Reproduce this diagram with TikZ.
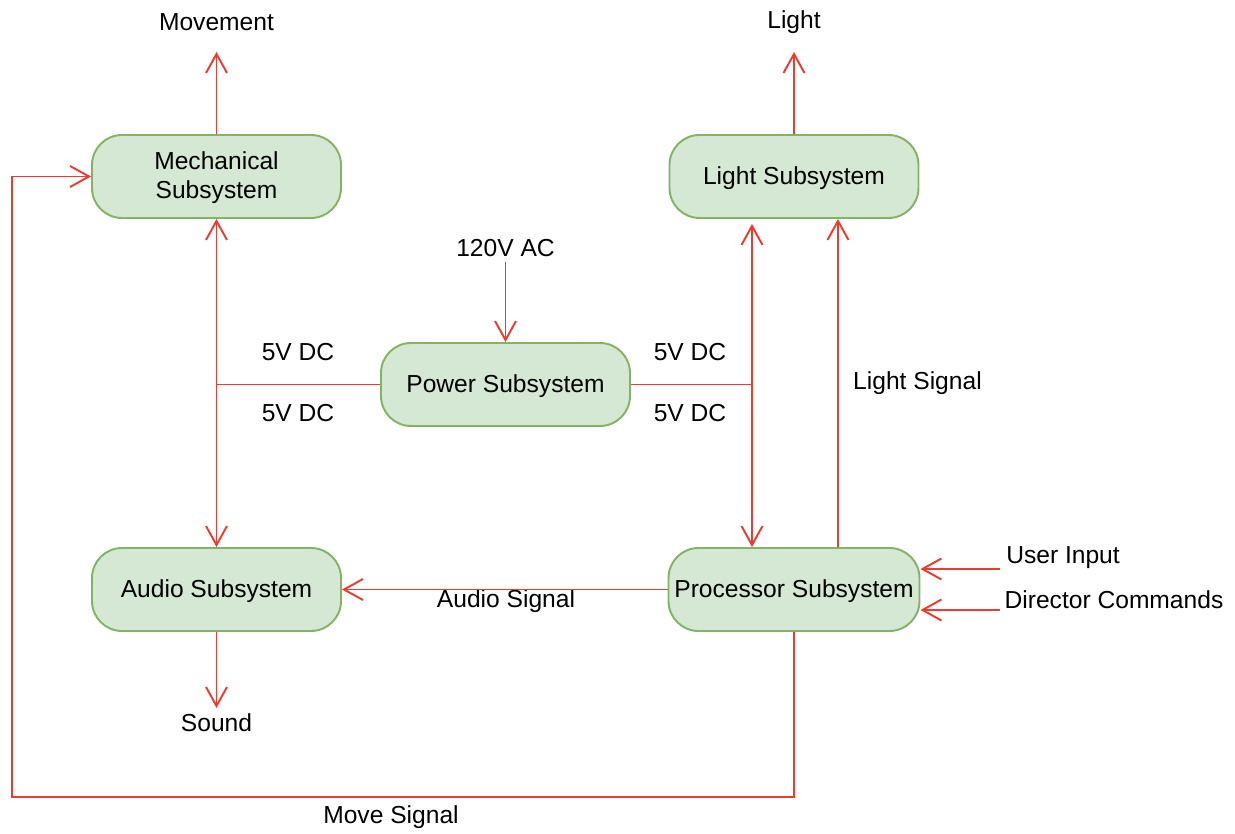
\documentclass[tikz,border=0pt]{standalone}
\usepackage{fontspec}
\setmainfont{Liberation Sans}
\usetikzlibrary{arrows.meta,calc,positioning}
\definecolor{boxfill}{HTML}{D5E8D4}
\definecolor{boxline}{HTML}{82B366}
\definecolor{wire}{HTML}{F03A2E}

\begin{document}
\begin{tikzpicture}[>={Straight Barb[length=0.38cm,width=0.42cm]},
  every node/.style={font=\fontsize{14}{16.5}\selectfont},
  box/.style={draw=boxline,fill=boxfill,line width=1.1pt,rounded corners=0.6cm,
    minimum width=4.98cm,minimum height=1.66cm,align=center,text depth=0.3ex},
  sig/.style={draw=wire,line width=1.1pt}]
\useasboundingbox (0,0) rectangle (24.7,16.68);
% blocks
\node[box] (mech) at (4.33,13.15) {Mechanical\\Subsystem};
\node[box] (light) at (15.88,13.15) {Light Subsystem};
\node[box] (power) at (10.11,8.99) {Power Subsystem};
\node[box] (audio) at (4.33,4.89) {Audio Subsystem};
\node[box] (proc) at (15.88,4.89) {Processor Subsystem};
% free ends
\coordinate (movend) at (4.33,15.64);
\coordinate (lightend) at (15.88,15.64);
\coordinate (acin) at (10.11,11.44);
\coordinate (soundend) at (4.33,2.52);
\coordinate (userin) at (20.0,5.3);
\coordinate (dirin) at (20.0,4.48);
\coordinate (loopbl) at (0.24,0.74);
\coordinate (rjoin) at (15.04,8.99);
% labels
\node (movement) at (4.33,16.24) {Movement};
\node (lightout) at (15.88,16.24) {Light};
\node (aclabel) at (10.11,11.72) {120V AC};
\node (dcla) at (5.96,9.64) {5V DC};
\node (dclb) at (5.96,8.42) {5V DC};
\node (dcra) at (13.8,9.64) {5V DC};
\node (dcrb) at (13.8,8.42) {5V DC};
\node (lsig) at (18.35,9.02) {Light Signal};
\node (asig) at (10.12,4.65) {Audio Signal};
\node (sound) at (4.33,2.22) {Sound};
\node (user) at (21.26,5.52) {User Input};
\node (director) at (22.28,4.68) {Director Commands};
\node (msig) at (7.82,0.34) {Move Signal};
% connectors
\draw[sig,->] (mech.north) -- (movend);
\draw[sig,->] (light.north) -- (lightend);
\draw[sig,->] (acin) -- (power.north);
\draw[sig,<->] (mech.south) -- (audio.north);
\draw[sig] (power.west) -- (power.west -| mech.south);
\draw[sig] (power.east) -- (rjoin);
\draw[sig,<->,shorten <=0.1cm] ($(light.south)+(-0.84,0)$) -- ($(proc.north)+(-0.84,0)$);
\draw[sig,->] ($(proc.north)+(0.88,0)$) -- ($(light.south)+(0.88,0)$);
\draw[sig,->] (proc.west) -- (audio.east);
\draw[sig,->] (audio.south) -- (soundend);
\draw[sig,->] (userin) -- (userin -| proc.east);
\draw[sig,->] (dirin) -- (dirin -| proc.east);
\draw[sig,->] (proc.south) |- (loopbl) |- (mech.west);
\end{tikzpicture}
\end{document}
